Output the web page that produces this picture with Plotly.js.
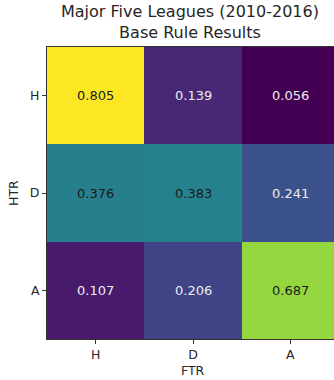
<!DOCTYPE html>
<html>
<head>
<meta charset="utf-8">
<script src="https://cdn.plot.ly/plotly-3.0.1.min.js"></script>
<style>
html,body{margin:0;padding:0;overflow:hidden;background:#fff;}
#chart{width:340px;height:380px;}
</style>
</head>
<body>
<div id="chart"></div>
<script>
var ftrLabels = ["H", "D", "A"];
var htrLabels = ["H", "D", "A"];
var rowH = [0.805, 0.139, 0.056];
var rowD = [0.376, 0.383, 0.241];
var rowA = [0.107, 0.206, 0.687];
var titleText = 'Major Five Leagues (2010-2016)<br>Base Rule Results';

var z = [rowH, rowD, rowA];
var flat = z.reduce(function(a, r){ return a.concat(r); }, []);
var zmin = Math.min.apply(null, flat), zmax = Math.max.apply(null, flat);

var annotations = [];
for (var i = 0; i < htrLabels.length; i++) {
  for (var j = 0; j < ftrLabels.length; j++) {
    var v = z[i][j];
    var frac = (v - zmin) / (zmax - zmin);
    annotations.push({
      x: ftrLabels[j], y: htrLabels[i], xref: 'x', yref: 'y',
      text: v.toFixed(3), showarrow: false,
      font: {family: 'DejaVu Sans', size: 13, color: frac > 0.4 ? '#1a1a1a' : '#ececec'}
    });
  }
}
annotations.push({text: titleText, xref: 'paper', yref: 'paper', x: 0.5, y: 1, xshift: -3, yshift: 3, yanchor: 'bottom', showarrow: false,
  font: {family: 'DejaVu Sans', size: 16, color: '#262626'}});
annotations.push({text: 'FTR', xref: 'paper', yref: 'paper', x: 0.5, y: 0, yshift: -22, yanchor: 'top', showarrow: false,
  font: {family: 'DejaVu Sans', size: 12.5, color: '#262626'}});
annotations.push({text: 'HTR', xref: 'paper', yref: 'paper', x: 0, xshift: -34, y: 0.5, xanchor: 'center', textangle: -90, showarrow: false,
  font: {family: 'DejaVu Sans', size: 12.5, color: '#262626'}});

var data = [{
  type: 'heatmap',
  x: ftrLabels, y: htrLabels, z: z,
  colorscale: 'Viridis', zmin: zmin, zmax: zmax,
  showscale: false, xgap: 0, ygap: 0, hoverinfo: 'skip'
}];

var layout = {
  width: 340, height: 380,
  margin: {l: 47, r: 1, t: 47, b: 41},
  paper_bgcolor: '#fff', plot_bgcolor: '#fff',
  font: {family: 'DejaVu Sans', color: '#262626'},
  xaxis: {type: 'category', ticks: 'outside', ticklen: 4, tickcolor: '#333', tickfont: {size: 12.5, family: 'DejaVu Sans'},
    showline: true, linecolor: '#333', linewidth: 1, mirror: true, showgrid: false, zeroline: false, fixedrange: true},
  yaxis: {type: 'category', autorange: 'reversed', ticks: 'outside', ticklen: 4, tickcolor: '#333', tickfont: {size: 12.5, family: 'DejaVu Sans'},
    showline: true, linecolor: '#333', linewidth: 1, mirror: true, showgrid: false, zeroline: false, fixedrange: true},
  annotations: annotations
};

Plotly.newPlot('chart', data, layout, {displayModeBar: false, staticPlot: true});
</script>
</body>
</html>
